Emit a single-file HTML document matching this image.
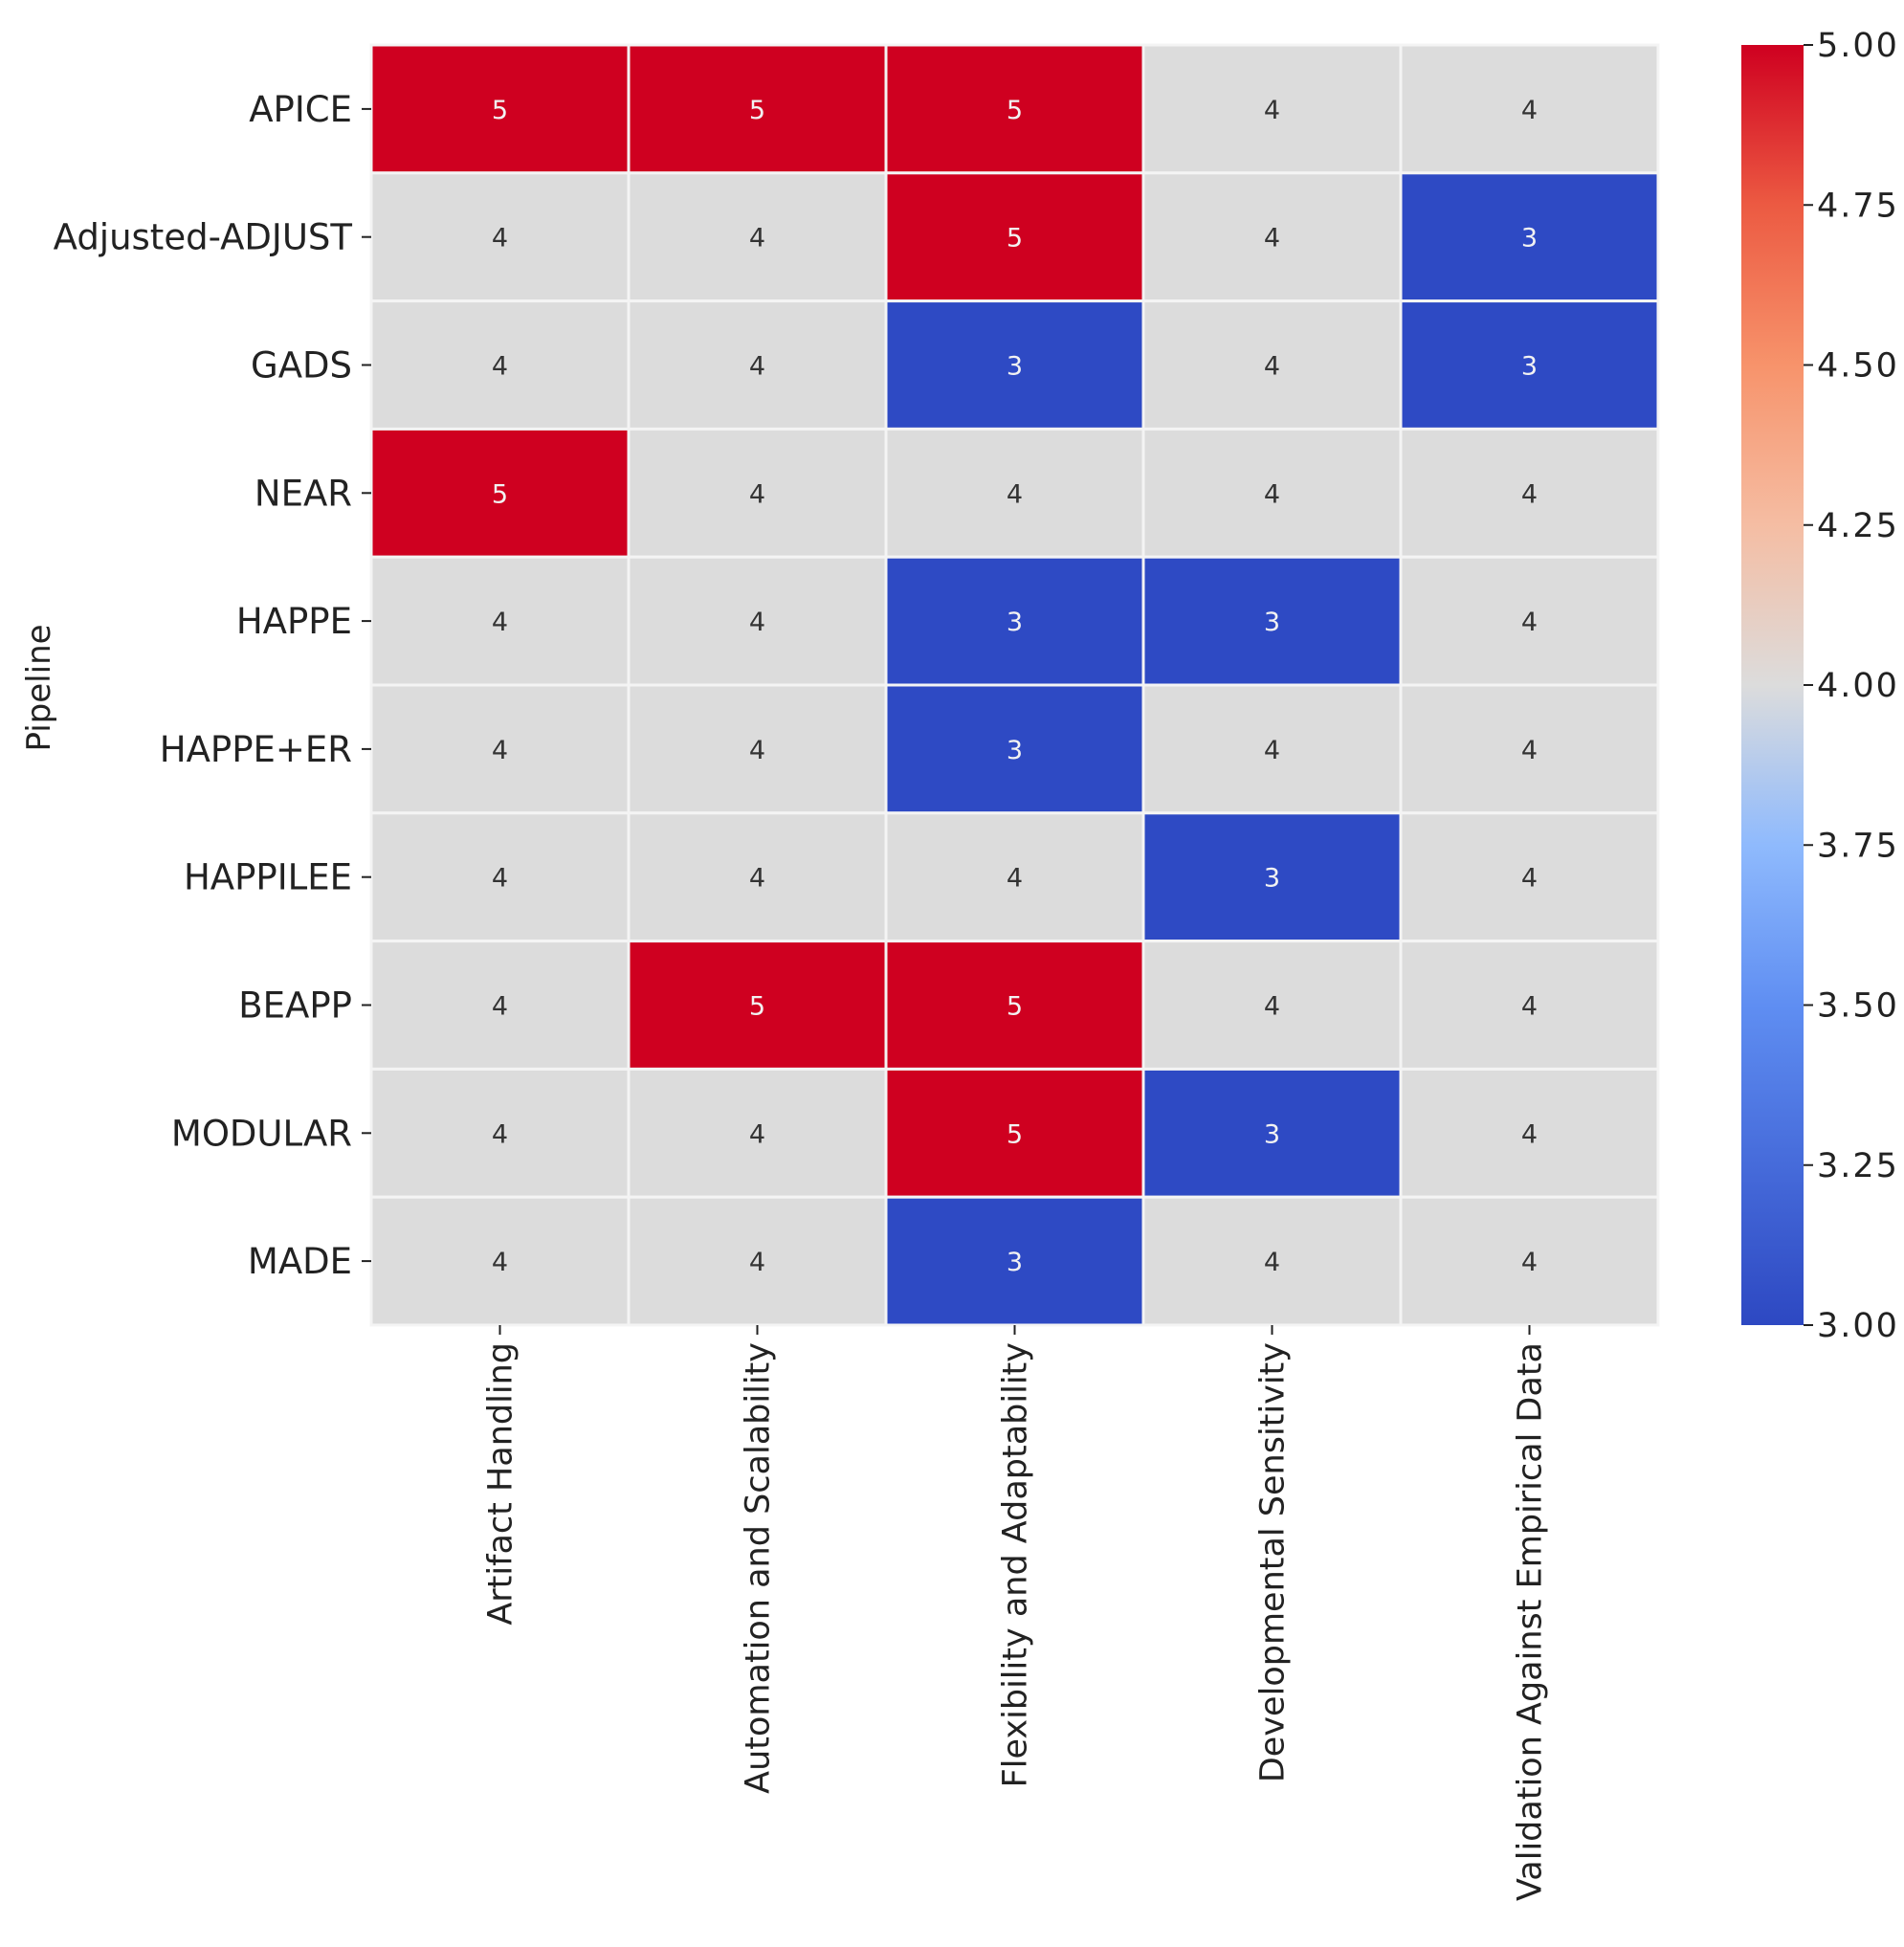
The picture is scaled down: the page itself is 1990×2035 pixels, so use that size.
<!DOCTYPE html>
<html><head><meta charset="utf-8"><style>
html,body{margin:0;padding:0;background:#fff;}
svg text{font-family:"DejaVu Sans","Liberation Sans",sans-serif;}
</style></head><body>
<svg id="chart" width="1990" height="2030" viewBox="0 0 1990 2030" xmlns="http://www.w3.org/2000/svg">
<defs><linearGradient id="cw" x1="0" y1="1" x2="0" y2="0">
<stop offset="0" stop-color="#2d48c2"/><stop offset="0.25" stop-color="#5f8ef2"/>
<stop offset="0.375" stop-color="#8fbafd"/><stop offset="0.5" stop-color="#dcdcdc"/>
<stop offset="0.625" stop-color="#f5bda3"/><stop offset="0.75" stop-color="#f7936b"/>
<stop offset="0.875" stop-color="#ec5a42"/><stop offset="1" stop-color="#cf0020"/>
</linearGradient></defs>
<g id="cells"></g>
<g id="axes"></g>
<rect x="1820" y="47" width="65" height="1338" fill="url(#cw)"/>
<text transform="translate(52,719) rotate(-90)" text-anchor="middle" font-size="34" fill="#222">Pipeline</text>
</svg>
<script>
const rows = ["APICE","Adjusted-ADJUST","GADS","NEAR","HAPPE","HAPPE+ER","HAPPILEE","BEAPP","MODULAR","MADE"];
const cols = ["Artifact Handling","Automation and Scalability","Flexibility and Adaptability","Developmental Sensitivity","Validation Against Empirical Data"];
const values = [
 [5,5,5,4,4],
 [4,4,5,4,3],
 [4,4,3,4,3],
 [5,4,4,4,4],
 [4,4,3,3,4],
 [4,4,3,4,4],
 [4,4,4,3,4],
 [4,5,5,4,4],
 [4,4,5,3,4],
 [4,4,3,4,4]
];
const cbTicks = [3.00,3.25,3.50,3.75,4.00,4.25,4.50,4.75,5.00];

const X0=388, X1=1733, Y0=47, Y1=1385;
const cw=(X1-X0)/cols.length, rh=(Y1-Y0)/rows.length;
const xPos=i=>X0+i*cw, yPos=j=>Y0+j*rh;
const cbY=v=>Y1-(v-3)/(5-3)*(Y1-Y0);
function color(v){ return v>=4.5?"#cf0020":(v<=3.5?"#2e4ac4":"#dcdcdc"); }
const NS="http://www.w3.org/2000/svg";
function mk(t,a,p){const e=document.createElementNS(NS,t);for(const k in a)e.setAttribute(k,a[k]);p.appendChild(e);return e;}
const cells=document.getElementById('cells'), axes=document.getElementById('axes'), svg=document.getElementById('chart');
values.forEach((row,j)=>row.forEach((v,i)=>{
  const r=mk('rect',{x:xPos(i),y:yPos(j),width:cw,height:rh,fill:color(v),stroke:"#f4f4f4","stroke-width":3},cells);
  
  
  const t=mk('text',{x:xPos(i)+cw/2,y:yPos(j)+rh/2+10,"text-anchor":"middle","font-size":27,fill:v==4?"#333":"#f2f2f2"},cells);
  t.textContent=v;
  
  
}));
rows.forEach((n,j)=>{
  const cy=yPos(j)+rh/2;
  mk('line',{x1:X0-10,x2:X0,y1:cy,y2:cy,stroke:"#222","stroke-width":2},axes);
  const t=mk('text',{x:X0-20,y:cy+13,"text-anchor":"end","font-size":37,fill:"#222"},axes);
  t.textContent=n;
  
  
});
cols.forEach((n,i)=>{
  const cx=xPos(i)+cw/2;
  mk('line',{x1:cx,x2:cx,y1:Y1,y2:Y1+10,stroke:"#222","stroke-width":2},axes);
  const t=mk('text',{transform:`translate(${cx+12},${Y1+18}) rotate(-90)`,"text-anchor":"end","font-size":35,fill:"#222"},axes);
  t.textContent=n;
  
  
});
cbTicks.forEach(v=>{
  const y=cbY(v);
  mk('line',{x1:1885,x2:1895,y1:y,y2:y,stroke:"#222","stroke-width":2},svg);
  const t=mk('text',{x:1899,y:y+12,"font-size":35,fill:"#222","letter-spacing":"2"},svg);
  t.textContent=v.toFixed(2);
  
  
});
</script>
</body></html>
